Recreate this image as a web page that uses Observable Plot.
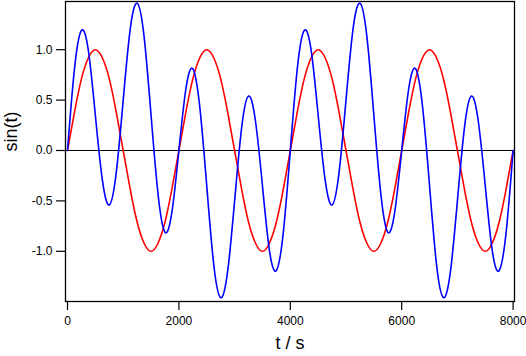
<!DOCTYPE html>
<html>
<head>
<meta charset="utf-8">
<script src="https://cdn.jsdelivr.net/npm/d3@7"></script>
<script src="https://cdn.jsdelivr.net/npm/@observablehq/plot@0.6"></script>
<style>
  html, body { margin: 0; padding: 0; background: #fff; }
  svg { display: block; }
</style>
</head>
<body>
<div id="chart"></div>
<script>
const time = [0,125,250,375,500,625,750,875,1000,1125,1250,1375,1500,1625,1750,1875,
  2000,2125,2250,2375,2500,2625,2750,2875,3000,3125,3250,3375,3500,3625,3750,3875,
  4000,4125,4250,4375,4500,4625,4750,4875,5000,5125,5250,5375,5500,5625,5750,5875,
  6000,6125,6250,6375,6500,6625,6750,6875,7000,7125,7250,7375,7500,7625,7750,7875,8000];

const redValues = [0,0.38,0.71,0.92,1,0.92,0.71,0.38,0,-0.38,-0.71,-0.92,-1,-0.92,-0.71,-0.38,
  0,0.38,0.71,0.92,1,0.92,0.71,0.38,0,-0.38,-0.71,-0.92,-1,-0.92,-0.71,-0.38,
  0,0.38,0.71,0.92,1,0.92,0.71,0.38,0,-0.38,-0.71,-0.92,-1,-0.92,-0.71,-0.38,
  0,0.38,0.71,0.92,1,0.92,0.71,0.38,0,-0.38,-0.71,-0.92,-1,-0.92,-0.71,-0.38,0];

const blueValues = [0,0.81,1.19,0.99,0.35,-0.29,-0.54,-0.22,0.50,1.20,1.46,1.13,0.35,-0.43,-0.81,-0.61,
  0,0.61,0.81,0.43,-0.35,-1.13,-1.46,-1.20,-0.50,0.22,0.54,0.29,-0.35,-0.99,-1.19,-0.81,
  0,0.81,1.19,0.99,0.35,-0.29,-0.54,-0.22,0.50,1.20,1.46,1.13,0.35,-0.43,-0.81,-0.61,
  0,0.61,0.81,0.43,-0.35,-1.13,-1.46,-1.20,-0.50,0.22,0.54,0.29,-0.35,-0.99,-1.19,-0.81,0];

const xTicks = [0, 2000, 4000, 6000, 8000];
const yTicks = [-1.0, -0.5, 0.0, 0.5, 1.0];
const xTitle = "t / s";
const yTitle = "sin(t)";

const redData = time.map((t, i) => ({t, v: redValues[i]}));
const blueData = time.map((t, i) => ({t, v: blueValues[i]}));

const chart = Plot.plot({
  width: 526,
  height: 356,
  marginLeft: 65,
  marginRight: 12,
  marginTop: 1,
  marginBottom: 55,
  style: {fontFamily: "'Liberation Sans', Arial, sans-serif", background: "#fff"},
  x: {domain: [-36, 8025]},
  y: {domain: [-1.498, 1.478]},
  marks: [
    Plot.ruleY([0], {stroke: "black", strokeWidth: 1}),
    Plot.line(redData, {x: "t", y: "v", stroke: "#ff0000", strokeWidth: 1.6, curve: "natural"}),
    Plot.line(blueData, {x: "t", y: "v", stroke: "#0000ff", strokeWidth: 1.6, curve: "natural"}),
    Plot.frame({stroke: "black", strokeWidth: 1.3}),
    Plot.axisX(xTicks, {tickSize: 9, tickPadding: 6, fontSize: 12, label: null, stroke: "black", strokeWidth: 1.2, tickFormat: d => String(d), fill: "black"}),
    Plot.axisY(yTicks, {tickSize: 9, tickPadding: 4, fontSize: 12, label: null, stroke: "black", strokeWidth: 1.2, tickFormat: d => d.toFixed(1), fill: "black"}),
    Plot.text([xTitle], {frameAnchor: "bottom", dy: 47, fontSize: 18, fill: "black"}),
    Plot.text([yTitle], {frameAnchor: "left", dx: -54, rotate: -90, fontSize: 18, fill: "black"})
  ]
});
document.getElementById("chart").appendChild(chart);
</script>
</body>
</html>
